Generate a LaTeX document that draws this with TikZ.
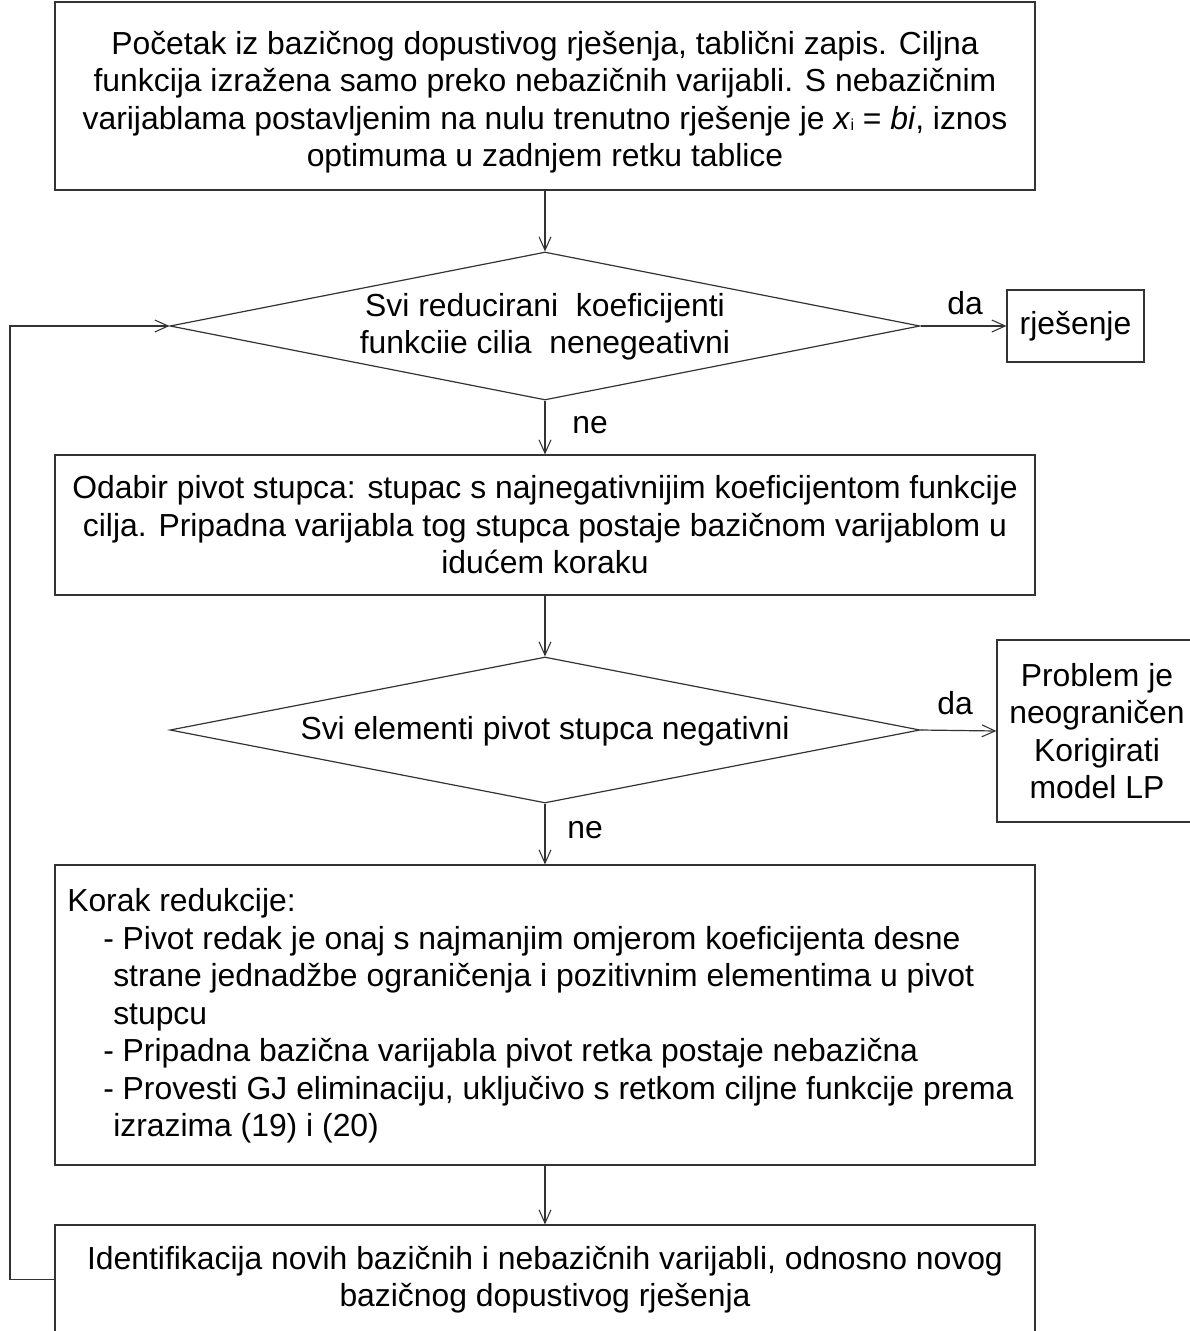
\documentclass[tikz,border=0pt]{standalone}
\usepackage{fontspec}
\setmainfont{Liberation Sans}
\usetikzlibrary{shapes.geometric,arrows.meta}
\def\px{0.75pt}
\begin{document}
\begin{tikzpicture}[x=0.75pt,y=-0.75pt,
  every node/.style={font=\fontsize{23.9}{28.1}\selectfont, inner sep=0pt},
  box/.style={draw=black!80, line width=0.9pt, rectangle, align=center},
  dia/.style={draw=black!80, line width=0.9pt, diamond, inner sep=0pt},
  lbl/.style={align=center},
  arr/.style={draw=black!80, line width=0.9pt, -{Straight Barb[length=10pt,width=9pt,line width=0.8pt]}},
  ln/.style={draw=black!80, line width=0.9pt}]
\useasboundingbox (0,0) rectangle (1189,1331);

% top box
\node[box, minimum width=980*\px, minimum height=188*\px] (b1) at (545,96) {};
\node[lbl] (b1t) at (545,102)
  {Početak iz bazičnog dopustivog rješenja, tablični zapis. Ciljna\\
   funkcija izražena samo preko nebazičnih varijabli. S nebazičnim\\
   varijablama postavljenim na nulu trenutno rješenje je \textit{x}{\fontsize{12}{12}\selectfont\raisebox{-0.15ex}{i}} = \textit{bi}, iznos\\
   optimuma u zadnjem retku tablice};

% diamond 1
\node[dia, minimum width=750*\px, minimum height=148*\px] (d1) at (545,326) {};
\node[lbl] (d1t) at (545,326.5) {Svi reducirani\ \ koeficijenti\\ funkciie cilia\ \ nenegeativni};

% rjesenje
\node[box, minimum width=137*\px, minimum height=72*\px] (rj) at (1075.5,326) {rješenje};

% box 2
\node[box, minimum width=980*\px, minimum height=140*\px] (b2) at (545,525)
  {Odabir pivot stupca: stupac s najnegativnijim koeficijentom funkcije\\
   cilja. Pripadna varijabla tog stupca postaje bazičnom varijablom u\\
   idućem koraku};

% diamond 2
\node[dia, minimum width=750*\px, minimum height=146*\px] (d2) at (545,730) {};
\node[lbl] (d2t) at (545,731) {Svi elementi pivot stupca negativni};

% problem box
\node[box, minimum width=200*\px, minimum height=182*\px] (pb) at (1097,731)
  {Problem je\\ neograničen\\ Korigirati\\ model LP};

% box 3
\node[box, minimum width=980*\px, minimum height=300*\px] (b3) at (545,1015) {};
\node[anchor=west, align=left] (b3t) at (67,1016)
  {Korak redukcije:\\
   \hspace*{27pt}- Pivot redak je onaj s najmanjim omjerom koeficijenta desne\\
   \hspace*{34.5pt}strane jednadžbe ograničenja i pozitivnim elementima u pivot\\
   \hspace*{34.5pt}stupcu\\
   \hspace*{27pt}- Pripadna bazična varijabla pivot retka postaje nebazična\\
   \hspace*{27pt}- Provesti GJ eliminaciju, uključivo s retkom ciljne funkcije prema\\
   \hspace*{34.5pt}izrazima (19) i (20)};

% box 4
\node[box, minimum width=980*\px, minimum height=109*\px] (b4) at (545,1279.5)
  {Identifikacija novih bazičnih i nebazičnih varijabli, odnosno novog\\
   bazičnog dopustivog rješenja};

% labels
\node (da1) at (965,303) {da};
\node (ne1) at (590,425) {ne};
\node (da2) at (955,703) {da};
\node (ne2) at (585,830) {ne};

\coordinate (lx) at (10,0);

% connectors
\draw[arr] (b1.south) -- (d1.north);
\draw[arr] (d1.east) -- (rj.west);
\draw[arr] (d1.south) -- (b2.north);
\draw[arr] (b2.south) -- (d2.north);
\draw[arr] (d2.east) -- (pb.west);
\draw[arr] (d2.south) -- (b3.north);
\draw[arr] (b3.south) -- (b4.north);
\draw[arr] (b4.west) -| (lx |- d1.west) -- (d1.west);
\end{tikzpicture}
\end{document}
